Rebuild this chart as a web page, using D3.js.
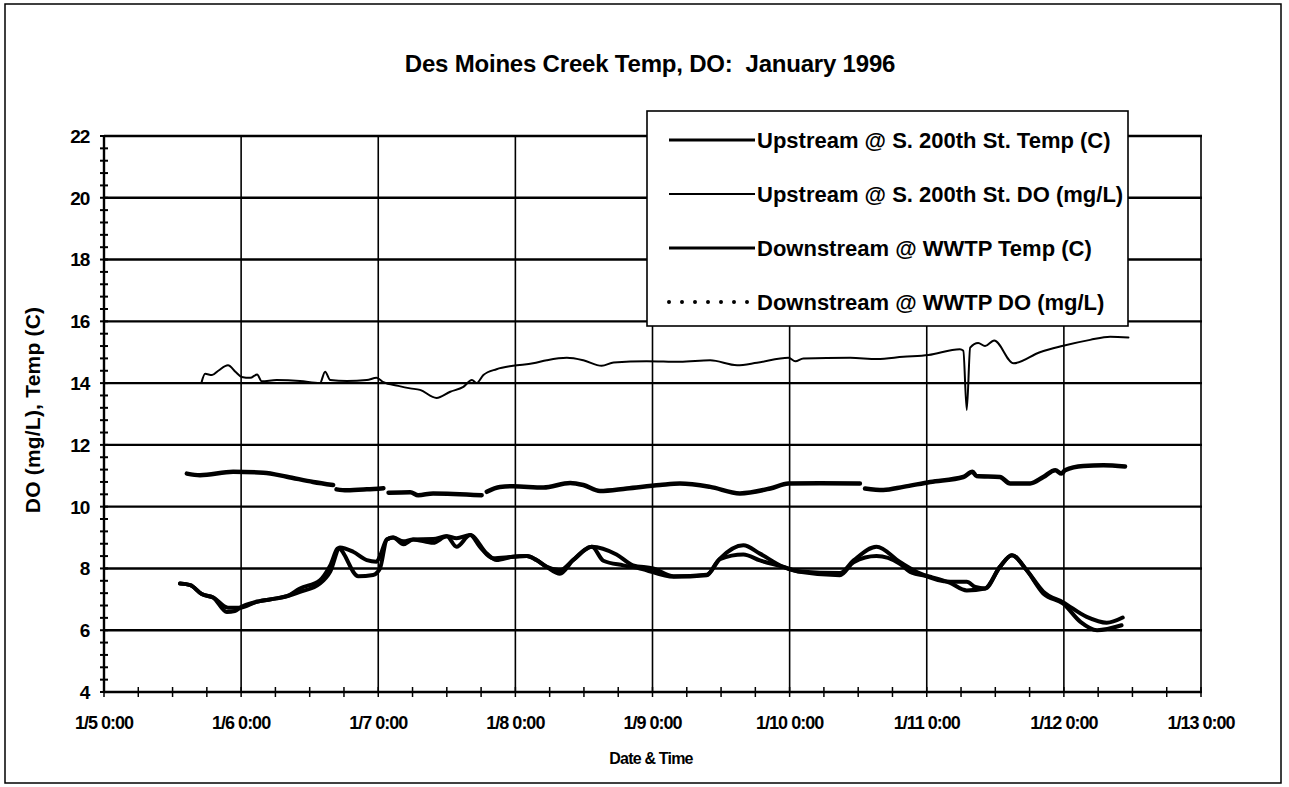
<!DOCTYPE html>
<html>
<head>
<meta charset="utf-8">
<script src="https://cdn.jsdelivr.net/npm/d3@7"></script>
<style>
  body { margin: 0; background: #fff; }
  svg { display: block; font-family: "Liberation Sans", Arial, sans-serif; }
</style>
</head>
<body>
<svg id="chart" width="1289" height="787"></svg>
<script>
// hours since 1/5/1996 0:00 and readings
var upDoHours = [17.1, 17.7, 18.9, 20, 21.7, 23.1, 24.1, 25.6, 26.8, 27.6, 30.2, 34.3, 37.8, 38.7, 39.6, 42.5, 46, 47.7, 48.9, 51.5, 53.6, 55.3, 58.2, 60.6, 62.9, 64.4, 65.2, 66.4, 68.7, 71.6, 75.1, 77.5, 81, 83.9, 87.1, 89.2, 95, 100.8, 106.1, 110.8, 114.3, 119.8, 121, 122.4, 130.6, 135.3, 139.9, 144.3, 149.8, 150.4, 151, 151.6, 153, 154.2, 155.8, 159.2, 163.8, 167.7, 172.6, 176.1, 179.3];
var upDoVals = [14.04, 14.3, 14.26, 14.4, 14.58, 14.35, 14.2, 14.17, 14.28, 14.06, 14.1, 14.07, 14.0, 14.37, 14.1, 14.07, 14.1, 14.17, 14.03, 13.91, 13.83, 13.78, 13.52, 13.72, 13.88, 14.1, 14.0, 14.26, 14.45, 14.56, 14.64, 14.74, 14.82, 14.74, 14.56, 14.67, 14.71, 14.69, 14.74, 14.58, 14.66, 14.82, 14.71, 14.8, 14.82, 14.78, 14.85, 14.91, 15.1, 15.05, 13.13, 15.15, 15.3, 15.2, 15.38, 14.64, 15.0, 15.2, 15.4, 15.5, 15.48];

var downDoHours = [14.5, 16.8, 22.6, 27.9, 32, 36.6, 40.1, 40.4, 40.7, 42.5, 46, 48.9, 49.3, 49.8, 53.6, 55, 57.6, 66.1, 66.5, 67, 69.3, 71.6, 76.9, 81.6, 83.9, 86.8, 91.5, 97.3, 100.8, 106.1, 111.3, 116.6, 119.8, 125.3, 132.3, 132.7, 133.2, 136.4, 139.9, 144.6, 150.4, 152, 152.7, 156.8, 158.6, 162.1, 164.4, 166.5, 167.6, 168.2, 171.4, 174.9, 178.7];
var downDoVals = [11.07, 11.02, 11.13, 11.1, 10.97, 10.8, 10.7, null, 10.56, 10.53, 10.56, 10.6, null, 10.45, 10.47, 10.37, 10.43, 10.37, null, 10.48, 10.64, 10.66, 10.62, 10.77, 10.7, 10.51, 10.59, 10.7, 10.75, 10.64, 10.43, 10.59, 10.75, 10.76, 10.75, null, 10.59, 10.54, 10.64, 10.8, 10.96, 11.13, 10.99, 10.96, 10.75, 10.75, 10.96, 11.18, 11.07, 11.18, 11.32, 11.34, 11.3];

var upTempHours = [13.3, 15.1, 17.1, 19.1, 21.5, 22.9, 23.8, 26.7, 30.2, 32, 34.3, 37.8, 39.6, 41, 44.5, 47.1, 48.3, 49.5, 50.6, 52.4, 54.1, 57.6, 60, 61.7, 64.1, 65.8, 68.1, 71.6, 74, 75.7, 77.5, 79.8, 82.1, 85.4, 87.4, 90.9, 93.8, 99.7, 105.5, 107.8, 111.9, 114.8, 118.9, 121.8, 128.8, 131.2, 135.2, 139.3, 141.1, 144.6, 148.1, 151, 154.2, 156.8, 158.9, 161.5, 164.4, 167.9, 170.9, 173.8, 178.1];
var upTempVals = [7.51, 7.46, 7.17, 7.06, 6.59, 6.62, 6.73, 6.92, 7.03, 7.1, 7.35, 7.62, 8.1, 8.65, 7.75, 7.79, 8.0, 8.94, 9.0, 8.78, 8.94, 8.83, 9.04, 8.7, 9.08, 8.7, 8.33, 8.38, 8.4, 8.27, 8.05, 7.83, 8.27, 8.7, 8.25, 8.1, 8.0, 7.73, 7.78, 8.3, 8.45, 8.26, 8.05, 7.89, 7.78, 8.2, 8.4, 8.15, 7.89, 7.73, 7.53, 7.29, 7.35, 8.05, 8.43, 7.94, 7.19, 6.86, 6.27, 6.0, 6.16];

var downTempHours = [13.3, 15.1, 17.1, 19.1, 21.7, 23.8, 26.7, 30.2, 32, 34.3, 37.8, 39.6, 41.3, 43.6, 46, 47.7, 48.3, 49.5, 50.6, 52.4, 54.1, 57.6, 60, 61.7, 64.1, 67, 68.7, 71.6, 74, 75.7, 77.5, 79.8, 82.1, 85.4, 89.7, 92.6, 96.1, 99.7, 105.5, 107.8, 111.9, 114.8, 118.9, 121.8, 128.8, 131.2, 135.2, 139.3, 142.8, 148.1, 151, 152.5, 154.2, 156.8, 158.9, 161.5, 164.4, 167.9, 172, 175.5, 178.3];
var downTempVals = [7.51, 7.46, 7.17, 7.06, 6.73, 6.73, 6.92, 7.03, 7.1, 7.24, 7.51, 7.9, 8.68, 8.54, 8.27, 8.22, 8.4, 8.94, 9.0, 8.88, 8.94, 8.95, 9.04, 8.98, 9.08, 8.48, 8.27, 8.38, 8.4, 8.27, 8.05, 7.94, 8.27, 8.7, 8.45, 8.1, 8.0, 7.75, 7.8, 8.32, 8.75, 8.48, 8.05, 7.9, 7.85, 8.26, 8.7, 8.21, 7.84, 7.57, 7.57, 7.4, 7.35, 8.05, 8.43, 7.94, 7.25, 6.9, 6.43, 6.24, 6.41];

var legendLabels = [
  "Upstream @ S. 200th St. Temp (C)",
  "Upstream @ S. 200th St. DO (mg/L)",
  "Downstream @ WWTP Temp (C)",
  "Downstream @ WWTP DO (mg/L)"
];
var yTicks = [4, 6, 8, 10, 12, 14, 16, 18, 20, 22];

var start = new Date(1996, 0, 5);
function toPoints(hours, vals) {
  return hours.map(function (h, i) {
    return { t: new Date(start.getTime() + h * 3600000), v: vals[i] };
  });
}

var svg = d3.select("#chart");
var x = d3.scaleTime()
  .domain([new Date(1996, 0, 5), new Date(1996, 0, 13)])
  .range([104, 1201]);
var y = d3.scaleLinear().domain([4, 22]).range([692, 136]);

// outer frame
svg.append("rect")
  .attr("x", 5).attr("y", 4).attr("width", 1276).attr("height", 779)
  .attr("fill", "none").attr("stroke", "#000").attr("stroke-width", 1.5);

svg.append("text")
  .attr("x", 650).attr("y", 72)
  .attr("text-anchor", "middle")
  .attr("font-size", 24).attr("font-weight", "bold")
  .attr("letter-spacing", -0.2)
  .style("white-space", "pre")
  .text("Des Moines Creek Temp, DO:  January 1996");

// gridlines
var dayTicks = d3.timeDay.range(new Date(1996, 0, 6), new Date(1996, 0, 14));
svg.append("g").selectAll("line")
  .data(dayTicks)
  .enter().append("line")
  .attr("x1", function (d) { return x(d); })
  .attr("x2", function (d) { return x(d); })
  .attr("y1", y(22)).attr("y2", y(4))
  .attr("stroke", "#000").attr("stroke-width", 1.6);

svg.append("g").selectAll("line")
  .data(yTicks.slice(1))
  .enter().append("line")
  .attr("x1", x(new Date(1996, 0, 5))).attr("x2", 1202)
  .attr("y1", function (d) { return y(d); })
  .attr("y2", function (d) { return y(d); })
  .attr("stroke", "#000").attr("stroke-width", 2.4);

// y axis with crossing ticks
var yAxis = svg.append("g").attr("transform", "translate(104,0)");
yAxis.append("line").attr("y1", y(22)).attr("y2", y(4))
  .attr("stroke", "#000").attr("stroke-width", 2.4);
yAxis.selectAll(".minor")
  .data(d3.range(4, 22.01, 0.4))
  .enter().append("line")
  .attr("x1", -4).attr("x2", 4)
  .attr("y1", function (d) { return y(d); })
  .attr("y2", function (d) { return y(d); })
  .attr("stroke", "#000").attr("stroke-width", 2);
yAxis.selectAll("text")
  .data(yTicks)
  .enter().append("text")
  .attr("x", -15).attr("y", function (d) { return y(d); })
  .attr("dy", "0.36em")
  .attr("text-anchor", "end")
  .attr("font-size", 19).attr("font-weight", "bold")
  .attr("letter-spacing", -1.2)
  .text(function (d) { return d; });

// x axis
var xAxis = svg.append("g").attr("transform", "translate(0," + y(4) + ")");
xAxis.append("line").attr("x1", x(new Date(1996, 0, 5))).attr("x2", 1202)
  .attr("stroke", "#000").attr("stroke-width", 2.6);
xAxis.selectAll(".tk")
  .data(d3.timeHour.every(6).range(new Date(1996, 0, 5), new Date(1996, 0, 13, 1)))
  .enter().append("line")
  .attr("x1", function (d) { return x(d); })
  .attr("x2", function (d) { return x(d); })
  .attr("y1", -5).attr("y2", 5)
  .attr("stroke", "#000").attr("stroke-width", 1.5);
var fmt = d3.timeFormat("%-m/%-d %-H:%M");
xAxis.selectAll("text")
  .data(d3.timeDay.range(new Date(1996, 0, 5), new Date(1996, 0, 14)))
  .enter().append("text")
  .attr("x", function (d) { return x(d); })
  .attr("y", 37)
  .attr("text-anchor", "middle")
  .attr("font-size", 18).attr("font-weight", "bold")
  .attr("letter-spacing", -1)
  .text(function (d) { return fmt(d); });

svg.append("text")
  .attr("x", 651).attr("y", 764)
  .attr("text-anchor", "middle")
  .attr("font-size", 16).attr("font-weight", "bold")
  .attr("letter-spacing", -0.8)
  .text("Date & Time");

svg.append("text")
  .attr("transform", "translate(40,410) rotate(-90)")
  .attr("text-anchor", "middle")
  .attr("font-size", 21).attr("font-weight", "bold")
  .attr("letter-spacing", 0.2)
  .text("DO (mg/L), Temp (C)");

// series
var line = d3.line()
  .defined(function (d) { return d.v !== null; })
  .x(function (d) { return x(d.t); })
  .y(function (d) { return y(d.v); })
  .curve(d3.curveMonotoneX);

var series = [
  { pts: toPoints(upDoHours, upDoVals), w: 2 },
  { pts: toPoints(downDoHours, downDoVals), w: 4.5 },
  { pts: toPoints(upTempHours, upTempVals), w: 4 },
  { pts: toPoints(downTempHours, downTempVals), w: 4 }
];
svg.append("g").selectAll("path")
  .data(series)
  .enter().append("path")
  .attr("d", function (s) { return line(s.pts); })
  .attr("fill", "none")
  .attr("stroke", "#000")
  .attr("stroke-width", function (s) { return s.w; })
  .attr("stroke-linejoin", "round")
  .attr("stroke-linecap", "round");

// legend
var lg = svg.append("g");
lg.append("rect")
  .attr("x", 647).attr("y", 111).attr("width", 481).attr("height", 215)
  .attr("fill", "#fff").attr("stroke", "#000").attr("stroke-width", 1.6);
var legendStyle = [
  { w: 3, dash: null },
  { w: 1.8, dash: null },
  { w: 3, dash: null },
  { w: 4, dash: "0,13" }
];
var items = lg.selectAll(".item")
  .data(legendLabels)
  .enter().append("g")
  .attr("transform", function (d, i) { return "translate(0," + (140 + i * 54) + ")"; });
items.append("line")
  .attr("x1", 669).attr("x2", 755)
  .attr("stroke", "#000")
  .attr("stroke-width", function (d, i) { return legendStyle[i].w; })
  .attr("stroke-dasharray", function (d, i) { return legendStyle[i].dash; })
  .attr("stroke-linecap", function (d, i) { return legendStyle[i].dash ? "round" : "butt"; });
items.append("text")
  .attr("x", 757).attr("dy", "0.36em")
  .attr("font-size", 22).attr("font-weight", "bold")
  .attr("letter-spacing", 0)
  .text(function (d) { return d; });
</script>
</body>
</html>
